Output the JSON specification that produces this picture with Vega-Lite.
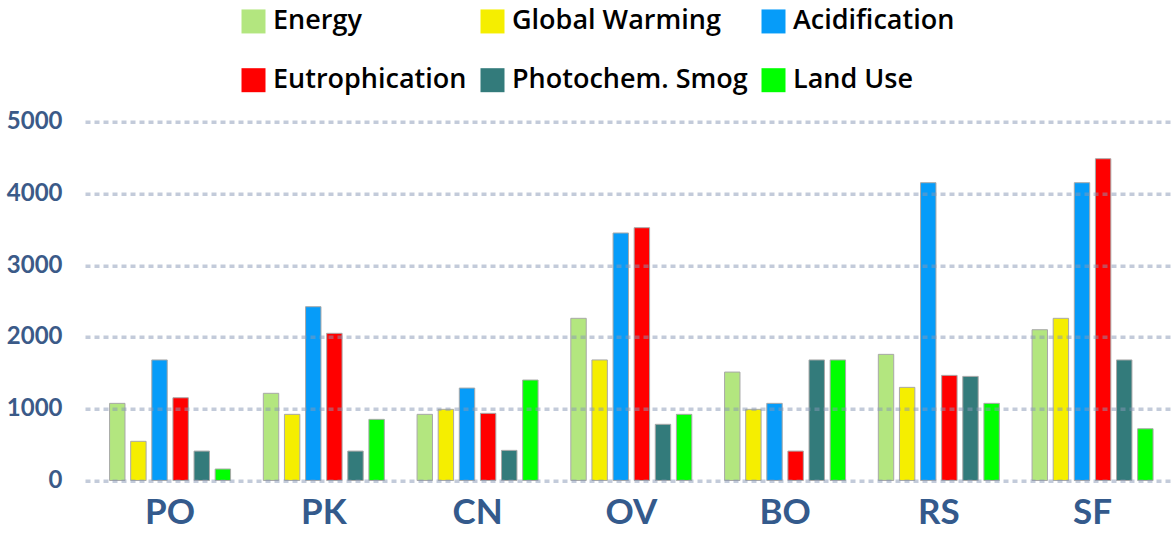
{
  "$schema": "https://vega.github.io/schema/vega-lite/v6.json",
  "width": 1089,
  "height": 358.8,
  "autosize": {"type": "none"},
  "padding": {"left": 85, "top": 121.7, "right": 0, "bottom": 60.5},
  "background": "white",
  "config": {"view": {"stroke": null}},
  "data": {
    "values": [
      {"site": "PO", "impact": "Energy", "value": 1075},
      {"site": "PO", "impact": "Global Warming", "value": 546},
      {"site": "PO", "impact": "Acidification", "value": 1680},
      {"site": "PO", "impact": "Eutrophication", "value": 1153},
      {"site": "PO", "impact": "Photochem. Smog", "value": 410},
      {"site": "PO", "impact": "Land Use", "value": 160},
      {"site": "PK", "impact": "Energy", "value": 1215},
      {"site": "PK", "impact": "Global Warming", "value": 922},
      {"site": "PK", "impact": "Acidification", "value": 2422},
      {"site": "PK", "impact": "Eutrophication", "value": 2051},
      {"site": "PK", "impact": "Photochem. Smog", "value": 410},
      {"site": "PK", "impact": "Land Use", "value": 852},
      {"site": "CN", "impact": "Energy", "value": 922},
      {"site": "CN", "impact": "Global Warming", "value": 992},
      {"site": "CN", "impact": "Acidification", "value": 1288},
      {"site": "CN", "impact": "Eutrophication", "value": 936},
      {"site": "CN", "impact": "Photochem. Smog", "value": 420},
      {"site": "CN", "impact": "Land Use", "value": 1400},
      {"site": "OV", "impact": "Energy", "value": 2260},
      {"site": "OV", "impact": "Global Warming", "value": 1680},
      {"site": "OV", "impact": "Acidification", "value": 3449},
      {"site": "OV", "impact": "Eutrophication", "value": 3523},
      {"site": "OV", "impact": "Photochem. Smog", "value": 783},
      {"site": "OV", "impact": "Land Use", "value": 922},
      {"site": "BO", "impact": "Energy", "value": 1511},
      {"site": "BO", "impact": "Global Warming", "value": 992},
      {"site": "BO", "impact": "Acidification", "value": 1075},
      {"site": "BO", "impact": "Eutrophication", "value": 410},
      {"site": "BO", "impact": "Photochem. Smog", "value": 1680},
      {"site": "BO", "impact": "Land Use", "value": 1680},
      {"site": "RS", "impact": "Energy", "value": 1758},
      {"site": "RS", "impact": "Global Warming", "value": 1298},
      {"site": "RS", "impact": "Acidification", "value": 4150},
      {"site": "RS", "impact": "Eutrophication", "value": 1465},
      {"site": "RS", "impact": "Photochem. Smog", "value": 1451},
      {"site": "RS", "impact": "Land Use", "value": 1075},
      {"site": "SF", "impact": "Energy", "value": 2101},
      {"site": "SF", "impact": "Global Warming", "value": 2260},
      {"site": "SF", "impact": "Acidification", "value": 4150},
      {"site": "SF", "impact": "Eutrophication", "value": 4484},
      {"site": "SF", "impact": "Photochem. Smog", "value": 1680},
      {"site": "SF", "impact": "Land Use", "value": 721}
    ]
  },
  "mark": {"type": "bar", "stroke": "#a8a8a8", "strokeWidth": 1},
  "encoding": {
    "x": {
      "field": "site",
      "type": "nominal",
      "sort": ["PO", "PK", "CN", "OV", "BO", "RS", "SF"],
      "scale": {"paddingInner": 0.213, "paddingOuter": 0.148, "align": 0.54},
      "axis": {
        "title": null,
        "labelAngle": 0,
        "domain": false,
        "ticks": false,
        "labelFont": "Lato",
        "labelFontWeight": "bold",
        "labelFontSize": 35,
        "labelColor": "#345a8c",
        "labelPadding": 15,
        "labelBaseline": "top"
      }
    },
    "xOffset": {
      "field": "impact",
      "type": "nominal",
      "sort": ["Energy", "Global Warming", "Acidification", "Eutrophication", "Photochem. Smog", "Land Use"],
      "scale": {"paddingInner": 0.27}
    },
    "y": {
      "field": "value",
      "type": "quantitative",
      "scale": {"domain": [0, 5000], "nice": false},
      "axis": {
        "title": null,
        "values": [0, 1000, 2000, 3000, 4000, 5000],
        "format": "d",
        "domain": false,
        "ticks": false,
        "labelPadding": 23,
        "labelFont": "Lato",
        "labelFontWeight": "bold",
        "labelFontSize": 24,
        "labelColor": "#3b5a88",
        "gridColor": "#8797b5",
        "gridOpacity": 0.5,
        "gridWidth": 3.5,
        "gridDash": [5, 4],
        "zindex": 1
      }
    },
    "color": {
      "field": "impact",
      "type": "nominal",
      "sort": ["Energy", "Global Warming", "Acidification", "Eutrophication", "Photochem. Smog", "Land Use"],
      "scale": {
        "domain": ["Energy", "Global Warming", "Acidification", "Eutrophication", "Photochem. Smog", "Land Use"],
        "range": ["#b3e67f", "#f5ee00", "#069cf9", "#ff0000", "#337b7b", "#00ff00"]
      },
      "legend": {
        "orient": "none",
        "legendX": 155,
        "legendY": -114,
        "direction": "horizontal",
        "columns": 3,
        "title": null,
        "symbolType": "square",
        "symbolSize": 576,
        "symbolStrokeWidth": 0,
        "symbolOpacity": 1,
        "labelFont": "Open Sans",
        "labelFontSize": 27,
        "labelFontWeight": 600,
        "labelLimit": 400,
        "rowPadding": 31,
        "columnPadding": 12,
        "labelOffset": 6,
        "encode": {"labels": {"update": {"fill": {"scale": "color", "field": "value"}}}}
      }
    }
  }
}
